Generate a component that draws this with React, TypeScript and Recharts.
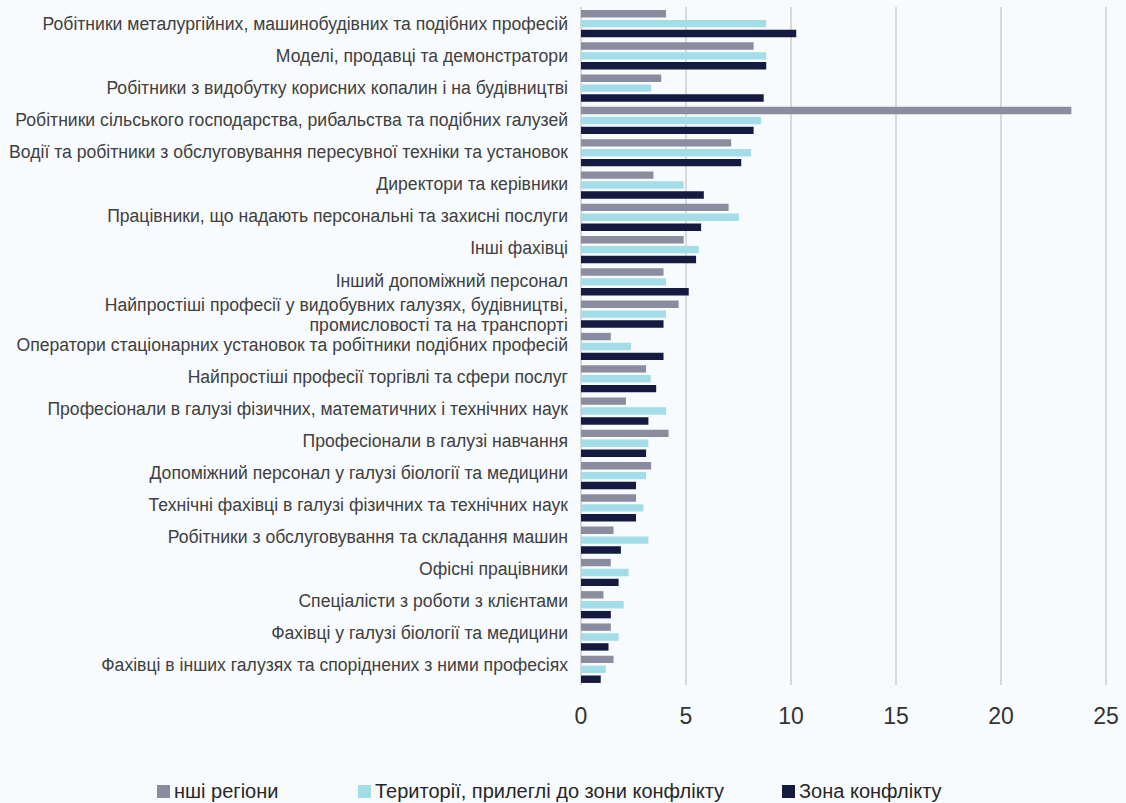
import React from 'react';
import { BarChart, Bar, XAxis, YAxis, CartesianGrid, Legend } from 'recharts';

const categories = [
  'Робітники металургійних, машинобудівних та подібних професій',
  'Моделі, продавці та демонстратори',
  'Робітники з видобутку корисних копалин і на будівництві',
  'Робітники сільського господарства, рибальства та подібних галузей',
  'Водії та робітники з обслуговування пересувної техніки та установок',
  'Директори та керівники',
  'Працівники, що надають персональні та захисні послуги',
  'Інші фахівці',
  'Інший допоміжний персонал',
  'Найпростіші професії у видобувних галузях, будівництві,\nпромисловості та на транспорті',
  'Оператори стаціонарних установок та робітники подібних професій',
  'Найпростіші професії торгівлі та сфери послуг',
  'Професіонали в галузі фізичних, математичних і технічних наук',
  'Професіонали в галузі навчання',
  'Допоміжний персонал у галузі біології та медицини',
  'Технічні фахівці в галузі фізичних та технічних наук',
  'Робітники з обслуговування та складання машин',
  'Офісні працівники',
  'Спеціалісти з роботи з клієнтами',
  'Фахівці у галузі  біології та медицини',
  'Фахівці в інших галузях та споріднених з ними професіях',
];

const otherRegions = [4.05, 8.22, 3.82, 23.35, 7.15, 3.45, 7.03, 4.89, 3.93, 4.65, 1.42, 3.1, 2.14, 4.17, 3.34, 2.62, 1.55, 1.42, 1.07, 1.42, 1.55];
const adjacent = [8.82, 8.82, 3.34, 8.58, 8.1, 4.89, 7.52, 5.61, 4.05, 4.05, 2.38, 3.32, 4.05, 3.21, 3.1, 2.97, 3.21, 2.27, 2.03, 1.79, 1.18];
const conflictZone = [10.25, 8.82, 8.7, 8.22, 7.63, 5.85, 5.72, 5.48, 5.13, 3.93, 3.93, 3.58, 3.21, 3.1, 2.62, 2.62, 1.9, 1.79, 1.42, 1.31, 0.94];

const xTicks = [0, 5, 10, 15, 20, 25];

const seriesNames = ['нші регіони', 'Території, прилеглі до зони конфлікту', 'Зона конфлікту'];
const colors = ['#8b8c9f', '#a3dde8', '#141a40'];

const data = categories.map((c, i) => ({
  name: c,
  other: otherRegions[i],
  adjacent: adjacent[i],
  zone: conflictZone[i],
}));

const FONT = '"Liberation Sans", Arial, sans-serif';

const CategoryTick = (props: any) => {
  const { x, y, payload, index } = props;
  const lines = String(payload.value).split('\n');
  const lh = 19.8;
  const multi = lines.length > 1;
  const start = multi ? -((lines.length - 1) * lh) / 2 + 2.2 : 0;
  const shift = 6.8 - 0.21 * (index || 0);
  return (
    <text x={x} y={y} textAnchor="end" fill="#404040" fontSize={17.6} fontFamily={FONT}>
      {lines.map((l, i) => (
        <tspan key={i} x={x} dy={i === 0 ? start + shift : lh}>
          {l}
        </tspan>
      ))}
    </text>
  );
};

const legendX = [157, 358, 782];

const LegendContent = () => (
  <div style={{ position: 'relative', width: 1126, height: 40 }}>
    {seriesNames.map((n, i) => (
      <div
        key={n}
        style={{
          position: 'absolute',
          left: legendX[i],
          top: 17,
          display: 'flex',
          alignItems: 'center',
          fontFamily: FONT,
          fontSize: 20,
          lineHeight: '23px',
          color: '#262626',
          whiteSpace: 'nowrap',
        }}
      >
        <span style={{ display: 'inline-block', width: 13, height: 13, background: colors[i], marginRight: 4 }} />
        {n}
      </div>
    ))}
  </div>
);

export default function App() {
  return (
    <div style={{ position: 'absolute', left: 0, top: 0, width: 1126, height: 803, background: '#f8fbfd' }}>
      <BarChart
        width={1126}
        height={803}
        data={data}
        layout="vertical"
        margin={{ top: 7, right: 20, left: 0, bottom: 0 }}
        barSize={7.4}
        barGap={2.5}
      >
        <CartesianGrid horizontal={false} vertical={true} stroke="#d9d9dd" strokeWidth={2} />
        <XAxis
          type="number"
          domain={[0, 25]}
          ticks={xTicks}
          axisLine={false}
          tickLine={false}
          tickMargin={17}
          height={78}
          tick={{ fill: '#333333', fontSize: 23, fontFamily: FONT }}
        />
        <YAxis
          type="category"
          dataKey="name"
          width={581}
          axisLine={false}
          tickLine={false}
          interval={0}
          tick={<CategoryTick />}
          tickMargin={7}
        />
        <Legend verticalAlign="bottom" wrapperStyle={{ height: 40, left: 0, bottom: 0 }} content={<LegendContent />} />
        <Bar dataKey="other" name={seriesNames[0]} fill={colors[0]} isAnimationActive={false} />
        <Bar dataKey="adjacent" name={seriesNames[1]} fill={colors[1]} isAnimationActive={false} />
        <Bar dataKey="zone" name={seriesNames[2]} fill={colors[2]} isAnimationActive={false} />
      </BarChart>
    </div>
  );
}
